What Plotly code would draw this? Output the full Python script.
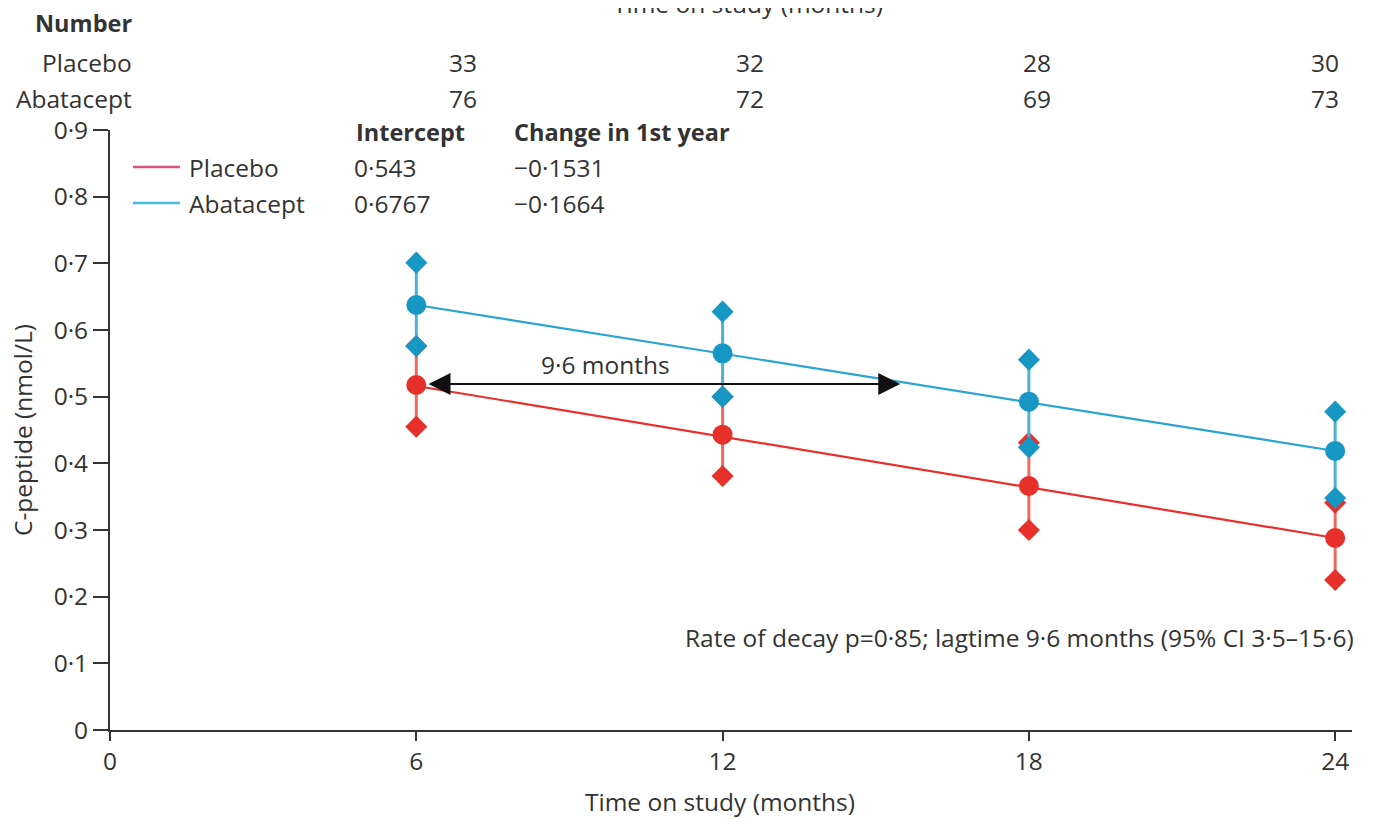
import plotly.graph_objects as go

# ---- data ----
months = [6, 12, 18, 24]
placebo_mean = [0.5175, 0.443, 0.366, 0.288]
placebo_lower = [0.455, 0.381, 0.300, 0.225]
placebo_upper = [0.576, 0.500, 0.431, 0.341]
abatacept_mean = [0.6375, 0.565, 0.4925, 0.4185]
abatacept_lower = [0.576, 0.500, 0.424, 0.348]
abatacept_upper = [0.701, 0.6275, 0.5555, 0.4775]

fit_months = [6, 24]
placebo_fit = [0.516, 0.288]
abatacept_fit = [0.6375, 0.4185]

number_placebo = ["33", "32", "28", "30"]
number_abatacept = ["76", "72", "69", "73"]

y_ticks = [0, 0.1, 0.2, 0.3, 0.4, 0.5, 0.6, 0.7, 0.8, 0.9]
y_ticktext = ["0", "0·1", "0·2", "0·3", "0·4", "0·5", "0·6", "0·7", "0·8", "0·9"]
x_ticks = [0, 6, 12, 18, 24]

legend_rows = [
    ("Placebo", "0·543", "−0·1531"),
    ("Abatacept", "0·6767", "−0·1664"),
]

# ---- styles ----
FONT = "Open Sans, sans-serif"
FS = 24.5
FSB = 23.5
TXT = "#333333"
RED = "#e8302a"
RED_ERR = "#ef6a5f"
RED_LEG = "#d9537a"
BLUE = "#1697c4"
BLUE_ERR = "#4bb3d6"
BLUE_LINE = "#2aa5cf"
BLUE_LEG = "#47bcd8"

# page offset (html body margin of 8px)
OFF = 8


def err_segments(xs, lo, hi):
    ex, ey = [], []
    for x, a, b in zip(xs, lo, hi):
        ex += [x, x, None]
        ey += [a, b, None]
    return ex, ey


fig = go.Figure()

for mean, lo, hi, fit, c, ce, cl in [
    (placebo_mean, placebo_lower, placebo_upper, placebo_fit, RED, RED_ERR, RED),
    (abatacept_mean, abatacept_lower, abatacept_upper, abatacept_fit, BLUE, BLUE_ERR, BLUE_LINE),
]:
    ex, ey = err_segments(months, lo, hi)
    fig.add_trace(go.Scatter(x=ex, y=ey, mode="lines", line=dict(color=ce, width=3),
                             showlegend=False, hoverinfo="skip"))
    fig.add_trace(go.Scatter(x=fit_months, y=fit, mode="lines", line=dict(color=cl, width=2.2),
                             showlegend=False, hoverinfo="skip"))
    fig.add_trace(go.Scatter(x=months + months, y=lo + hi, mode="markers",
                             marker=dict(symbol="diamond", size=17, color=c), showlegend=False))
    fig.add_trace(go.Scatter(x=months, y=mean, mode="markers",
                             marker=dict(symbol="circle", size=20, color=c), showlegend=False))


def px_x(p):
    return (p - 110) / 1242.0


def py(p):
    return (730 - p) / 600.0


def txt(x, y, s, anchor="left", size=FS):
    return dict(x=x, y=y, xref="paper", yref="paper", xanchor=anchor, yanchor="middle",
                text=s, showarrow=False, font=dict(size=size, color=TXT, family=FONT))


annotations = []

# double-headed arrow (lag time)
annotations.append(dict(x=15.48, y=0.519, ax=6.21, ay=0.519, xref="x", yref="y",
                        axref="x", ayref="y", text="", showarrow=True,
                        arrowhead=2, startarrowhead=2, arrowside="end+start",
                        arrowsize=2.2, startarrowsize=2.2, arrowwidth=2, arrowcolor="#111111"))
annotations.append(dict(x=9.7, y=0.549, xref="x", yref="y", text="9·6 months", showarrow=False,
                        yanchor="middle", font=dict(size=FS, color=TXT, family=FONT)))

annotations.append(txt(px_x(1356), py(637),
                       "Rate of decay p=0·85; lagtime 9·6 months (95% CI 3·5–15·6)", "right"))

# axis titles
annotations.append(txt(px_x(720), py(801), "Time on study (months)", "center"))
yt = txt(px_x(22), py(430), "C-peptide (nmol/L)", "center")
yt["textangle"] = -90
annotations.append(yt)

# number at risk table above plot
annotations.append(txt(px_x(748), py(3), "Time on study (months)", "center"))
annotations.append(txt(px_x(134), py(23), "<b>Number</b>", "right", FSB))
annotations.append(txt(px_x(134), py(62), "Placebo", "right"))
annotations.append(txt(px_x(134), py(99), "Abatacept", "right"))
num_x_px = [479, 766, 1053, 1341]
for xp, a, b in zip(num_x_px, number_placebo, number_abatacept):
    annotations.append(txt(px_x(xp), py(62), a, "right"))
    annotations.append(txt(px_x(xp), py(99), b, "right"))

# legend block
annotations.append(txt(px_x(354), py(132), "<b>Intercept</b>", "left", FSB))
annotations.append(txt(px_x(512), py(132), "<b>Change in 1st year</b>", "left", FSB))
shapes = []
for (name, icpt, chg), yy, lc in zip(legend_rows, [167, 203], [RED_LEG, BLUE_LEG]):
    shapes.append(dict(type="line", xref="paper", yref="paper",
                       x0=px_x(133), x1=px_x(180), y0=py(yy), y1=py(yy),
                       line=dict(color=lc, width=2.5)))
    annotations.append(txt(px_x(187), py(yy), name))
    annotations.append(txt(px_x(352), py(yy), icpt))
    annotations.append(txt(px_x(512), py(yy), chg))

fig.update_layout(
    width=1373, height=819,
    margin=dict(l=110 - OFF, r=21 + OFF, t=130 - OFF, b=89 + OFF),
    paper_bgcolor="white", plot_bgcolor="white",
    font=dict(family=FONT, size=FS, color=TXT),
    showlegend=False,
    annotations=annotations,
    shapes=shapes,
    xaxis=dict(range=[0, 24.33], tickvals=x_ticks, ticks="outside", ticklen=9, tickwidth=2,
               tickcolor="#333333", showline=True, linecolor="#333333", linewidth=2,
               showgrid=False, zeroline=False, automargin=False,
               tickfont=dict(size=FS, color=TXT, family=FONT)),
    yaxis=dict(range=[0, 0.9], tickvals=y_ticks, ticktext=y_ticktext, ticks="outside", ticklen=15,
               tickwidth=2, tickcolor="#333333", showline=True, linecolor="#333333", linewidth=2,
               showgrid=False, zeroline=False, automargin=False,
               tickfont=dict(size=FS, color=TXT, family=FONT)),
)

fig.write_html("out.html")
